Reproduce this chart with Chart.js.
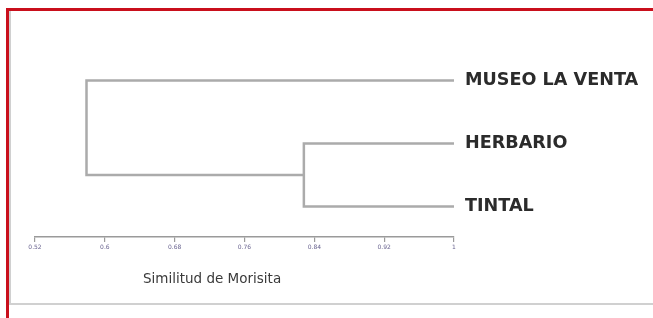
<!DOCTYPE html>
<html>
<head>
<meta charset="utf-8">
<script src="https://cdn.jsdelivr.net/npm/chart.js@4/dist/chart.umd.min.js"></script>
<style>
    html, body { margin: 0; padding: 0; background: #fff; }
    .wrap { position: relative; width: 653px; height: 318px; overflow: hidden; }
    canvas { position: absolute; left: 0; top: 0; }
    /* frame of the original screenshot */
    .red-top { position: absolute; left: 6px; top: 8px; width: 647px; height: 3px; background: #c90f1c; }
    .red-left { position: absolute; left: 6px; top: 8px; width: 3px; height: 310px; background: #c90f1c; }
    .grey-left { position: absolute; left: 9px; top: 11px; width: 2px; height: 294px; background: #d0d0d0; }
    .grey-bottom { position: absolute; left: 9px; top: 303px; width: 644px; height: 2px; background: #d0d0d0; }
</style>
</head>
<body>
<div class="wrap">
    <canvas id="dendro" width="653" height="318"></canvas>
    <div class="red-top"></div>
    <div class="red-left"></div>
    <div class="grey-left"></div>
    <div class="grey-bottom"></div>
</div>
<script>
// Leaves, top to bottom
const leafNames = ['MUSEO LA VENTA', 'HERBARIO', 'TINTAL'];
// Merges (linkage style: leaves are 0..2, clusters are 3..)
const mergeLeft = [1, 0];
const mergeRight = [2, 3];
const mergeHeights = [0.828, 0.579]; // Morisita similarity at which they join
// x axis
const tickValues = [0.52, 0.6, 0.68, 0.76, 0.84, 0.92, 1];
const tickLabels = ['0.52', '0.6', '0.68', '0.76', '0.84', '0.92', '1'];
const axisTitle = 'Similitud de Morisita';

const lineColor = '#ababab';

function BuildSegments() {
    let nodes = leafNames.map((name, i) => ({ x: 1, y: i }));
    let datasets = [];

    mergeHeights.forEach((h, k) => {
        let a = nodes[mergeLeft[k]];
        let b = nodes[mergeRight[k]];
        // one polyline per merge: child a -> vertical -> child b
        datasets.push({
            data: [
                { x: a.x, y: a.y },
                { x: h, y: a.y },
                { x: h, y: b.y },
                { x: b.x, y: b.y }
            ],
            showLine: true,
            borderColor: lineColor,
            borderWidth: 2.5,
            pointRadius: 0,
            tension: 0,
            clip: false
        });
        nodes.push({ x: h, y: (a.y + b.y) / 2 });
    });

    return datasets;
}

const titlePlugin = {
    id: 'axisTitle',
    afterDraw: (chart) => {
        let ctx = chart.ctx;
        ctx.save();
        ctx.font = '13.5px "DejaVu Sans"';
        ctx.fillStyle = '#3a3a3a';
        ctx.textAlign = 'left';
        ctx.textBaseline = 'alphabetic';
        ctx.fillText(axisTitle, 143, 283);
        ctx.restore();
    }
};

const config = {
    type: 'scatter',
    data: { datasets: BuildSegments() },
    options: {
        responsive: false,
        animation: false,
        layout: { padding: { left: 35, top: 62, right: 0, bottom: 0 } },
        plugins: {
            legend: { display: false },
            tooltip: { enabled: false }
        },
        scales: {
            x: {
                type: 'linear',
                position: 'bottom',
                min: 0.52,
                max: 1,
                afterBuildTicks: (s) => { s.ticks = tickValues.map(v => ({ value: v })); },
                afterFit: (s) => { s.height = 81; },
                ticks: {
                    callback: (v, i) => tickLabels[i],
                    font: { family: 'DejaVu Sans', size: 6 },
                    color: '#6a6590',
                    padding: 2,
                    maxRotation: 0,
                    autoSkip: false
                },
                grid: {
                    drawOnChartArea: false,
                    drawTicks: true,
                    tickLength: 5,
                    color: '#9a9a9a',
                    lineWidth: 1.2
                },
                border: { color: '#9a9a9a', width: 1.5 }
            },
            y: {
                type: 'linear',
                position: 'right',
                reverse: true,
                min: -0.295,
                max: 2.485,
                afterBuildTicks: (s) => { s.ticks = leafNames.map((n, i) => ({ value: i })); },
                afterFit: (s) => { s.width = 199; },
                ticks: {
                    callback: (v) => leafNames[v],
                    font: { family: 'DejaVu Sans', size: 17.6, weight: 'bold' },
                    color: '#2b2b2b',
                    padding: 11,
                    autoSkip: false
                },
                grid: { display: false, drawTicks: false },
                border: { display: false }
            }
        }
    },
    plugins: [titlePlugin]
};

try {
    new Chart(document.getElementById('dendro'), config);
}
catch (e) {
    document.body.insertAdjacentText('beforeend', 'Error draw chart');
}
</script>
</body>
</html>
